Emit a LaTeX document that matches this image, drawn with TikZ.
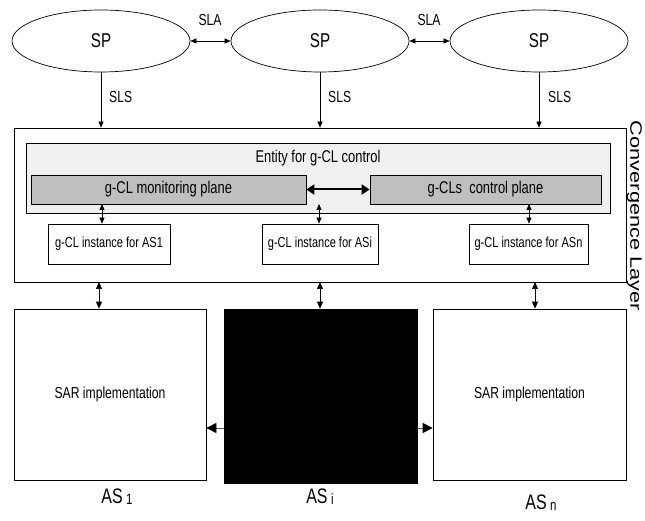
\documentclass[tikz,border=0pt]{standalone}
\usepackage{fontspec}
\setmainfont{Liberation Sans}[FakeStretch=0.76]
\newfontfamily\wideface{Liberation Sans}[FakeStretch=1.32]
\usetikzlibrary{arrows.meta,shapes.geometric}

\tikzset{
  fs/.style={font=\fontsize{#1}{#1}\selectfont},
  sp/.style={draw, ellipse, line width=0.7pt, minimum width=178pt, minimum height=62pt, inner sep=0pt, fs=20},
  box/.style={draw, rectangle, line width=0.7pt, inner sep=0pt},
  plane/.style={box, fill=gray!50, fs=17},
  inst/.style={box, fill=white, minimum height=40pt, fs=14.5},
  asbox/.style={box, minimum height=171pt, fs=16},
  lbl/.style={inner sep=0pt, fs=16},
  thin arrow/.style={line width=0.6pt, -{Triangle[length=6pt,width=5pt]}},
  thin both/.style={line width=0.6pt, {Triangle[length=6pt,width=5pt]}-{Triangle[length=6pt,width=5pt]}},
  mid both/.style={line width=0.7pt, {Triangle[length=7pt,width=6pt]}-{Triangle[length=7pt,width=6pt]}},
  thick both/.style={line width=2pt, {Triangle[length=8pt,width=10pt]}-{Triangle[length=8pt,width=10pt]}},
  side arrow/.style={line width=0.7pt, draw=gray!70!black, -{Triangle[length=10pt,width=10pt,color=black]}},
}

\begin{document}
\begin{tikzpicture}[x=1pt, y=-1pt]
\useasboundingbox (0,0) rectangle (645,521);

% service providers
\node[sp] (sp1) at (101,41) {SP};
\node[sp] (sp2) at (320,41) {SP};
\node[sp] (sp3) at (539,41) {SP};
\draw[thin both] (sp1.east) -- (sp2.west);
\draw[thin both] (sp2.east) -- (sp3.west);
\node[lbl] (sla1) at (210,20) {SLA};
\node[lbl] (sla2) at (429,20) {SLA};

% convergence layer
\node[box, minimum width=612pt, minimum height=154pt] (cl) at (320,205) {};
\node[inner sep=0pt, rotate=-90, font=\wideface\fontsize{16.5}{16.5}\selectfont] (cllbl) at (634.5,216) {Convergence Layer};

\node[box, fill=gray!12, minimum width=584pt, minimum height=70pt] (ent) at (318,178) {};
\node[lbl, fs=17] (entlbl) at (318,158) {Entity for g-CL control};
\node[plane, minimum width=275pt, minimum height=29pt] (mon) at (168.5,189.5) {g-CL monitoring plane};
\node[plane, minimum width=231pt, minimum height=29pt] (ctl) at (485.5,189.5) {g-CLs\ \ control plane};
\draw[thick both] (mon.east) -- (ctl.west);

\node[inst, minimum width=122pt] (in1) at (109,244) {g-CL instance for AS1};
\node[inst, minimum width=116pt] (in2) at (320,244) {g-CL instance for ASi};
\node[inst, minimum width=119pt] (in3) at (528.5,244) {g-CL instance for ASn};

\coordinate (e1) at (102,204);
\coordinate (e2) at (319,204);
\coordinate (e3) at (529,204);
\draw[thin both] (e1) -- (in1.north -| e1);
\draw[thin both] (e2) -- (in2.north -| e2);
\draw[thin both] (e3) -- (in3.north -| e3);

% service level specifications
\draw[thin arrow] (sp1.south) -- (cl.north -| sp1.south);
\draw[thin arrow] (sp2.south) -- (cl.north -| sp2.south);
\draw[thin arrow] (sp3.south) -- (cl.north -| sp3.south);
\node[lbl, anchor=west] (sls1) at (109,97) {SLS};
\node[lbl, anchor=west] (sls2) at (328,97) {SLS};
\node[lbl, anchor=west] (sls3) at (548,97) {SLS};

% autonomous systems
\node[asbox, minimum width=192pt] (as1) at (110,394.5) {SAR implementation};
\node[box, fill=black, minimum width=193pt, minimum height=174pt] (asi) at (320.5,396) {};
\node[asbox, minimum width=193pt] (asn) at (529.5,394.5) {SAR implementation};

\coordinate (c1) at (99,282);
\coordinate (c2) at (320,282);
\coordinate (c3) at (535,282);
\draw[mid both] (c1) -- (as1.north -| c1);
\draw[mid both] (c2) -- (asi.north -| c2);
\draw[mid both] (c3) -- (asn.north -| c3);

\coordinate (h1) at (asi.west |- 0,428);
\coordinate (h2) at (asi.east |- 0,428);
\draw[side arrow] (h1) -- (as1.east |- h1);
\draw[side arrow] (h2) -- (asn.west |- h2);

\node[lbl, fs=21] (n1) at (117,497) {AS\,{\fontsize{15}{15}\selectfont\raisebox{-1pt}{1}}};
\node[lbl, fs=21] (n2) at (320,497) {AS\,{\fontsize{15}{15}\selectfont\raisebox{-1pt}{i}}};
\node[lbl, fs=21] (n3) at (541,503) {AS\,{\fontsize{15}{15}\selectfont\raisebox{-1pt}{n}}};
\end{tikzpicture}
\end{document}
